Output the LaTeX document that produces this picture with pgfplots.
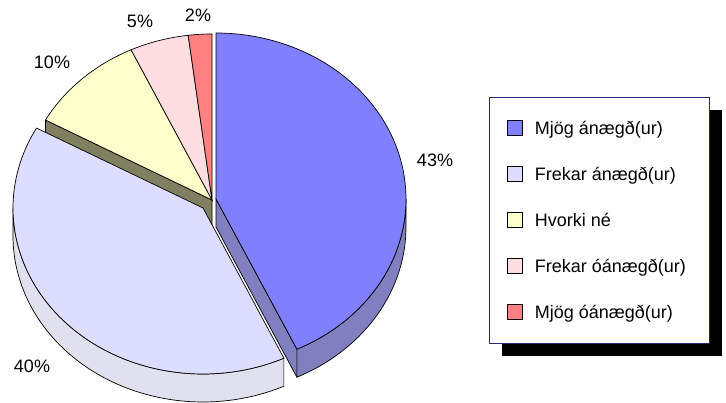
\documentclass[border=0pt]{standalone}
\usepackage{fontspec}
\setmainfont{Liberation Sans}
\usepackage{pgfplots}
\pgfplotsset{compat=1.18}
\usepackage{pgfplotstable}
\usepgfplotslibrary{fillbetween}

\definecolor{c1}{RGB}{128,128,255}
\definecolor{c1s}{RGB}{128,128,192}
\definecolor{c2}{RGB}{221,221,255}
\definecolor{c2s}{RGB}{224,224,238}
\definecolor{c3}{RGB}{255,255,204}
\definecolor{c3s}{RGB}{128,128,96}
\definecolor{c4}{RGB}{255,221,224}
\definecolor{c5}{RGB}{255,128,128}
\definecolor{legborder}{RGB}{40,40,110}

\pgfplotstableread{
idx value
1 43
2 40
3 10
4 5
5 2
}\piedata
\pgfplotstablegetelem{0}{value}\of\piedata \let\vA\pgfplotsretval
\pgfplotstablegetelem{1}{value}\of\piedata \let\vB\pgfplotsretval
\pgfplotstablegetelem{2}{value}\of\piedata \let\vC\pgfplotsretval
\pgfplotstablegetelem{3}{value}\of\piedata \let\vD\pgfplotsretval
\pgfplotstablegetelem{4}{value}\of\piedata \let\vE\pgfplotsretval
% cumulative angles (clockwise from 12 o'clock)
\pgfmathsetmacro{\aA}{0}
\pgfmathsetmacro{\aB}{\aA+3.6*\vA}
\pgfmathsetmacro{\aC}{\aB+3.6*\vB}
\pgfmathsetmacro{\aD}{\aC+3.6*\vC}
\pgfmathsetmacro{\aE}{\aD+3.6*\vD}
\pgfmathsetmacro{\aF}{\aE+3.6*\vE}
% geometry (pixel units, y downwards)
\def\rx{190}\def\ry{166}\def\dep{28}
\def\cx{212}\def\cy{200}
\def\bx{216}\def\by{199}
\def\lx{203}\def\ly{208}
\pgfmathsetmacro{\byd}{\by+\dep}
\pgfmathsetmacro{\cyd}{\cy+\dep}
\pgfmathsetmacro{\pBx}{\bx+\rx*sin(\aB)}
\pgfmathsetmacro{\pBy}{\by-\ry*cos(\aB)}
\pgfmathsetmacro{\pByd}{\pBy+\dep}
\pgfmathsetmacro{\pCx}{\cx+\rx*sin(\aC)}
\pgfmathsetmacro{\pCy}{\cy-\ry*cos(\aC)}
\pgfmathsetmacro{\pCyd}{\pCy+\dep}

\begin{document}%
\begin{tikzpicture}
\begin{axis}[
  width=726bp, height=400bp, scale only axis,
  xmin=0, xmax=726, ymin=0, ymax=400, y dir=reverse,
  hide axis, clip=false,
  legend cell align=left,
  legend image code/.code={\draw[#1,draw=black,line width=0.6bp] (0bp,-7.5bp) rectangle (15bp,7.5bp);},
  legend style={
    at={(axis cs:489,97)}, anchor=north west,
    draw=none, fill=none,
    inner xsep=18bp, inner ysep=21bp,
    font=\fontsize{18bp}{21bp}\selectfont,
    row sep=27bp,
    nodes={inner sep=0pt, text height=16bp, text depth=3bp},
    /tikz/every odd column/.append style={column sep=12bp},
  },
]
\path (axis cs:0,0) rectangle (axis cs:726,400);
% legend frame and its shadow
\fill[black] (axis cs:502,110) rectangle (axis cs:722,356);
\filldraw[fill=white, draw=legborder, line width=0.7bp] (axis cs:489,97) rectangle (axis cs:709,343);
% olive radial face of the yellow slice
\addplot[fill=c3s, draw=black, line width=0.7bp, forget plot]
  coordinates {(\cx,\cy) (\pCx,\pCy) (\pCx,\pCyd) (\cx,\cyd)} -- cycle;
% blue radial face
\addplot[fill=c1s, draw=black, line width=0.7bp, forget plot]
  coordinates {(\bx,\by) (\pBx,\pBy) (\pBx,\pByd) (\bx,\byd)} -- cycle;
% blue rim
\addplot[name path=btop, draw=none, domain=90:\aB, samples=40, forget plot]
  ({\bx+\rx*sin(x)},{\by-\ry*cos(x)});
\addplot[name path=bbot, draw=none, domain=90:\aB, samples=40, forget plot]
  ({\bx+\rx*sin(x)},{\by+\dep-\ry*cos(x)});
\addplot[fill=c1s, draw=black, line width=0.7bp, forget plot] fill between[of=btop and bbot];
% light blue rim
\addplot[name path=ltop, draw=none, domain=\aB:270, samples=60, forget plot]
  ({\lx+\rx*sin(x)},{\ly-\ry*cos(x)});
\addplot[name path=lbot, draw=none, domain=\aB:270, samples=60, forget plot]
  ({\lx+\rx*sin(x)},{\ly+\dep-\ry*cos(x)});
\addplot[fill=c2s, draw=black, line width=0.7bp, forget plot] fill between[of=ltop and lbot];
% top faces
\addplot[fill=c1, draw=black, line width=0.7bp, domain=\aA:\aB, samples=80]
  ({\bx+\rx*sin(x)},{\by-\ry*cos(x)}) -- (axis cs:\bx,\by) -- cycle;
\addlegendentry{Mjög ánægð(ur)}
\addplot[fill=c2, draw=black, line width=0.7bp, domain=\aB:\aC, samples=80]
  ({\lx+\rx*sin(x)},{\ly-\ry*cos(x)}) -- (axis cs:\lx,\ly) -- cycle;
\addlegendentry{Frekar ánægð(ur)}
\addplot[fill=c3, draw=black, line width=0.7bp, domain=\aC:\aD, samples=30]
  ({\cx+\rx*sin(x)},{\cy-\ry*cos(x)}) -- (axis cs:\cx,\cy) -- cycle;
\addlegendentry{Hvorki né}
\addplot[fill=c4, draw=black, line width=0.7bp, domain=\aD:\aE, samples=20]
  ({\cx+\rx*sin(x)},{\cy-\ry*cos(x)}) -- (axis cs:\cx,\cy) -- cycle;
\addlegendentry{Frekar óánægð(ur)}
\addplot[fill=c5, draw=black, line width=0.7bp, domain=\aE:\aF, samples=10]
  ({\cx+\rx*sin(x)},{\cy-\ry*cos(x)}) -- (axis cs:\cx,\cy) -- cycle;
\addlegendentry{Mjög óánægð(ur)}
% percentage labels
\begin{scope}[every node/.style={font=\fontsize{18bp}{21bp}\selectfont, inner sep=0pt}]
\node at (axis cs:435,160) {43\%};
\node at (axis cs:32,366) {40\%};
\node at (axis cs:52,62) {10\%};
\node at (axis cs:140,21) {5\%};
\node at (axis cs:198,15) {2\%};
\end{scope}
\end{axis}
\end{tikzpicture}%
\end{document}
